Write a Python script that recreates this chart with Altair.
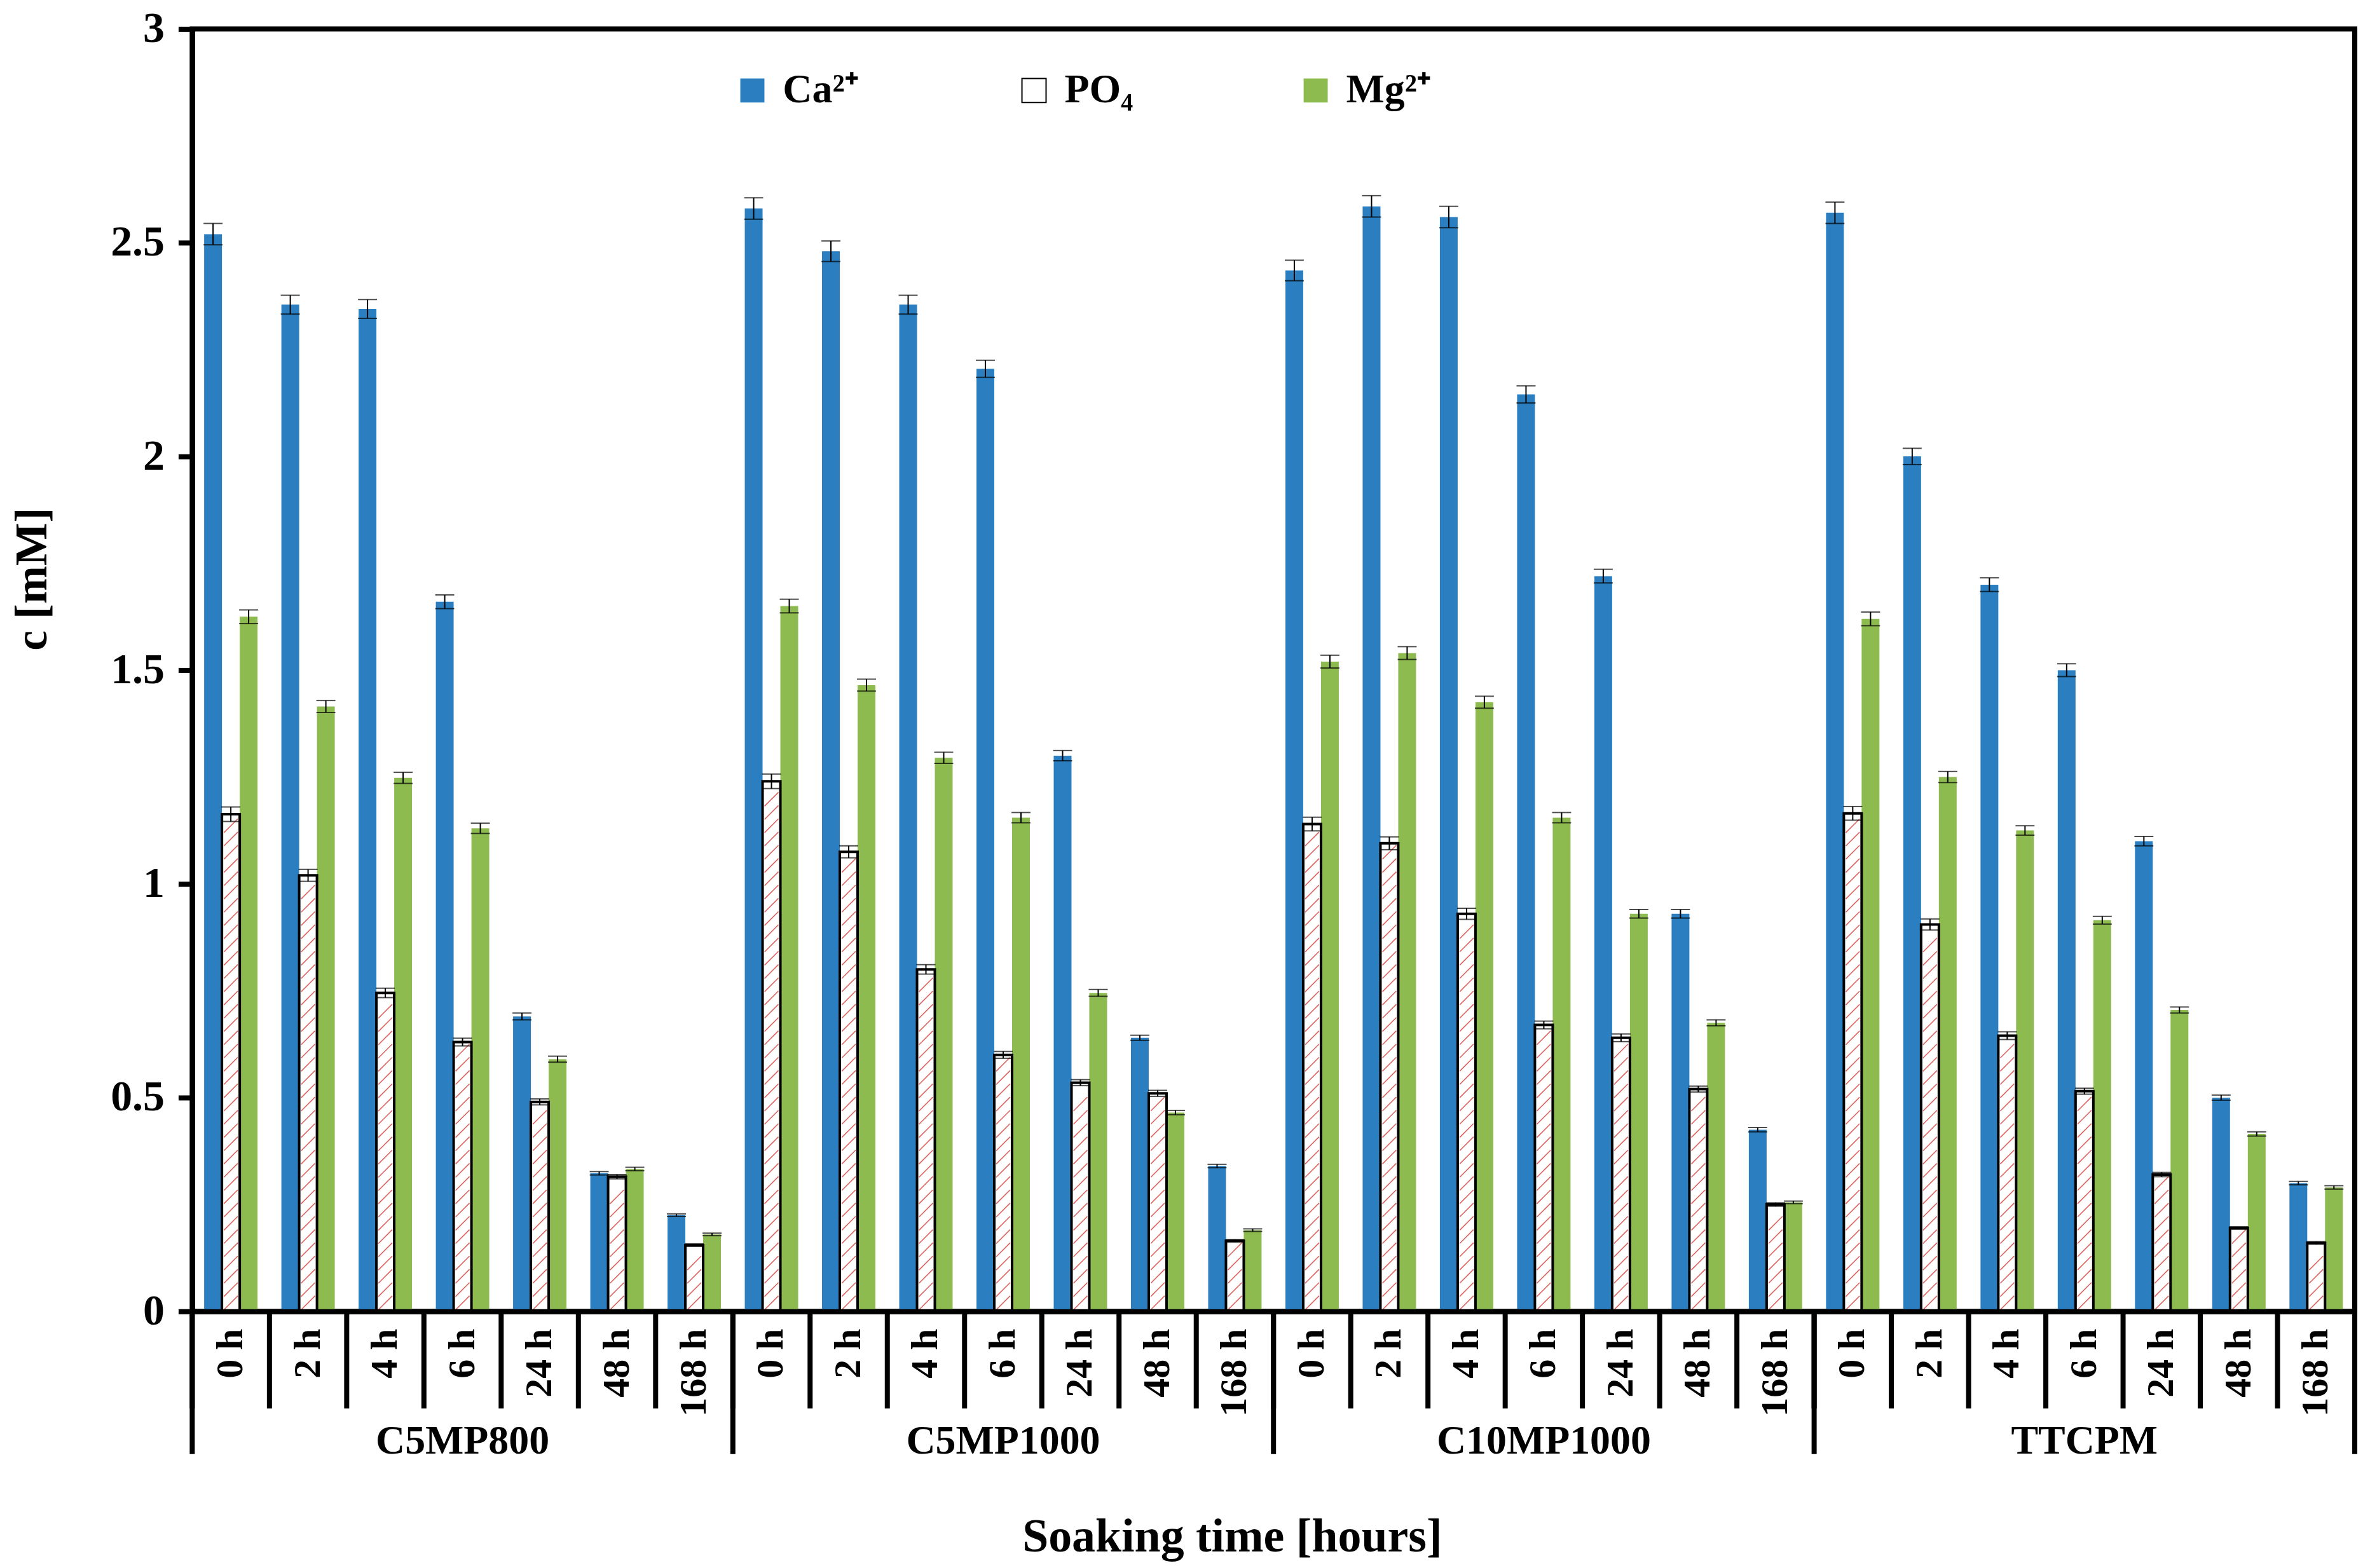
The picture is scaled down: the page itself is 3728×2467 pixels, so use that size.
import altair as alt
import pandas as pd

groups = ["C5MP800", "C5MP1000", "C10MP1000", "TTCPM"]
times = ["0 h", "2 h", "4 h", "6 h", "24 h", "48 h", "168 h"]
series = ["Ca²⁺", "PO₄", "Mg²⁺"]

# values per group (0 h ... 168 h)
ca_vals = {
    "C5MP800":   [2.52, 2.355, 2.345, 1.66, 0.69, 0.323, 0.225],
    "C5MP1000":  [2.58, 2.48, 2.355, 2.205, 1.30, 0.64, 0.34],
    "C10MP1000": [2.435, 2.585, 2.56, 2.145, 1.72, 0.93, 0.425],
    "TTCPM":     [2.57, 2.0, 1.70, 1.50, 1.10, 0.50, 0.30],
}
po4_vals = {
    "C5MP800":   [1.163, 1.02, 0.745, 0.63, 0.49, 0.315, 0.155],
    "C5MP1000":  [1.24, 1.075, 0.80, 0.60, 0.535, 0.51, 0.165],
    "C10MP1000": [1.14, 1.095, 0.93, 0.67, 0.64, 0.52, 0.25],
    "TTCPM":     [1.165, 0.905, 0.645, 0.515, 0.32, 0.195, 0.16],
}
mg_vals = {
    "C5MP800":   [1.625, 1.415, 1.248, 1.13, 0.59, 0.333, 0.18],
    "C5MP1000":  [1.65, 1.465, 1.295, 1.155, 0.745, 0.465, 0.19],
    "C10MP1000": [1.52, 1.54, 1.425, 1.155, 0.93, 0.675, 0.255],
    "TTCPM":     [1.62, 1.25, 1.125, 0.915, 0.705, 0.415, 0.29],
}
# error bar half-widths
ca_err = {
    "C5MP800":   [0.025, 0.022, 0.022, 0.016, 0.008, 0.004, 0.003],
    "C5MP1000":  [0.025, 0.024, 0.022, 0.020, 0.012, 0.006, 0.004],
    "C10MP1000": [0.024, 0.025, 0.025, 0.020, 0.016, 0.010, 0.005],
    "TTCPM":     [0.025, 0.019, 0.016, 0.015, 0.011, 0.006, 0.004],
}
po4_err = {
    "C5MP800":   [0.017, 0.014, 0.011, 0.009, 0.007, 0.005, 0.003],
    "C5MP1000":  [0.017, 0.014, 0.011, 0.008, 0.007, 0.007, 0.003],
    "C10MP1000": [0.016, 0.015, 0.013, 0.009, 0.009, 0.007, 0.004],
    "TTCPM":     [0.016, 0.013, 0.009, 0.007, 0.005, 0.003, 0.003],
}
mg_err = {
    "C5MP800":   [0.016, 0.014, 0.013, 0.012, 0.007, 0.004, 0.003],
    "C5MP1000":  [0.016, 0.014, 0.013, 0.012, 0.008, 0.005, 0.003],
    "C10MP1000": [0.015, 0.015, 0.014, 0.012, 0.010, 0.007, 0.003],
    "TTCPM":     [0.016, 0.013, 0.011, 0.009, 0.007, 0.005, 0.004],
}

BLUE = "#2B7FC0"
GREEN = "#8DBB50"
HATCH = "#D9534F"
FONT = "Liberation Serif"

keys = [f"{g}|{t}" for g in groups for t in times]

rows = []
for s, vals, errs in [(series[0], ca_vals, ca_err), (series[2], mg_vals, mg_err), (series[1], po4_vals, po4_err)]:
    for g in groups:
        for i, t in enumerate(times):
            v = vals[g][i]
            e = errs[g][i]
            rows.append({"key": f"{g}|{t}", "group": g, "time": t, "series": s,
                         "value": v, "lo": v - e, "hi": v + e})
df = pd.DataFrame(rows)

W, H = 3409, 2022

xscale = alt.Scale(domain=keys, paddingInner=0, paddingOuter=0)
xoff = alt.XOffset("series:N", scale=alt.Scale(domain=series, paddingInner=0, paddingOuter=0.67))
yscale = alt.Scale(domain=[0, 3], nice=False)

x_main = alt.X(
    "key:N", scale=xscale, title="Soaking time [hours]",
    axis=alt.Axis(
        labelExpr="split(datum.value, '|')[1]", labelAngle=-90, labelAlign="right",
        labelBaseline="middle", labelPadding=27, labelFontSize=60, labelFont=FONT,
        labelFontWeight="bold", labelOverlap=False, ticks=False, tickSize=0,
        domainWidth=8, zindex=1,
        titleFontSize=74, titleFont=FONT, titleFontWeight="bold",
        titleX=1639, titleY=378, titleAlign="center", titleBaseline="alphabetic", titleAngle=0,
    ),
)
y_main = alt.Y(
    "value:Q", scale=yscale, title="c [mM]",
    axis=alt.Axis(
        values=[0, 0.5, 1, 1.5, 2, 2.5, 3], format="~g", labelFontSize=68, labelFont=FONT,
        labelFontWeight="bold", labelPadding=22, tickSize=22, tickWidth=8, domainWidth=8,
        grid=False, zindex=1,
        titleFontSize=72, titleFont=FONT, titleFontWeight="bold",
        titleX=-230, titleY=867, titleAlign="center", titleBaseline="alphabetic", titleAngle=270,
    ),
)

legend = alt.Legend(
    title=None, orient="none", legendX=851, legendY=65, direction="horizontal",
    symbolType="square", symbolSize=1444, symbolStrokeWidth=2,
    labelFont=FONT, labelFontSize=64, labelFontWeight="bold", labelOffset=16,
    columnPadding=230, gridAlign="all", labelLimit=400,
)

base = alt.Chart(df)

bars = base.mark_bar(strokeWidth=4).encode(
    x=x_main,
    xOffset=xoff,
    y=y_main,
    fill=alt.Fill("series:N", scale=alt.Scale(domain=series, range=[BLUE, "white", GREEN]), legend=legend),
    stroke=alt.Stroke("series:N", scale=alt.Scale(domain=series, range=["rgba(0,0,0,0)", "black", "rgba(0,0,0,0)"]), legend=legend),
)

# diagonal hatching inside the PO4 bars (custom point shape = one hatch stroke)
hatch = base.transform_filter(
    alt.datum.series == series[1]
).transform_calculate(
    hy="sequence(0.02, datum.value - 0.02, 0.031)"
).transform_flatten(["hy"]).mark_point(
    shape="M -1 1 L 1 -1", filled=False, size=480, strokeWidth=1.6, color=HATCH, opacity=0.9,
).encode(
    x=alt.X("key:N", scale=xscale), xOffset=xoff, y=alt.Y("hy:Q", scale=yscale),
)

err_rule = base.mark_rule(color="black", strokeWidth=2).encode(
    x=alt.X("key:N", scale=xscale), xOffset=xoff,
    y=alt.Y("lo:Q", scale=yscale), y2="hi:Q",
)
err_lo = base.mark_tick(color="black", thickness=2, size=30).encode(
    x=alt.X("key:N", scale=xscale), xOffset=xoff, y=alt.Y("lo:Q", scale=yscale),
)
err_hi = base.mark_tick(color="black", thickness=2, size=30).encode(
    x=alt.X("key:N", scale=xscale), xOffset=xoff, y=alt.Y("hi:Q", scale=yscale),
)

sep_df = pd.DataFrame({"key": keys})
seps = alt.Chart(sep_df).mark_rule(color="black", strokeWidth=8).encode(
    x=alt.X("key:N", scale=xscale, bandPosition=0),
    y=alt.value(H), y2=alt.value(H + 153),
)

grp_df = pd.DataFrame({"key": [f"{g}|{times[0]}" for g in groups]})
grp_seps = alt.Chart(grp_df).mark_rule(color="black", strokeWidth=8).encode(
    x=alt.X("key:N", scale=xscale, bandPosition=0),
    y=alt.value(H), y2=alt.value(H + 225),
)
end_df = pd.DataFrame({"key": [keys[-1]]})
end_sep = alt.Chart(end_df).mark_rule(color="black", strokeWidth=8).encode(
    x=alt.X("key:N", scale=xscale, bandPosition=1),
    y=alt.value(0), y2=alt.value(H + 225),
)

lab_df = pd.DataFrame({"key": [f"{g}|{times[3]}" for g in groups], "group": groups})
grp_labels = alt.Chart(lab_df).mark_text(
    font=FONT, fontSize=64, fontWeight="bold", color="black", baseline="middle", align="center",
).encode(
    x=alt.X("key:N", scale=xscale, bandPosition=0.5),
    y=alt.value(H + 205),
    text="group:N",
)

chart = alt.layer(bars, hatch, err_rule, err_lo, err_hi, seps, grp_seps, end_sep, grp_labels).properties(
    width=W, height=H,
    padding={"left": 295, "top": 35, "right": 16, "bottom": 394},
    autosize=alt.AutoSizeParams(type="none"),
    background="white",
).configure_view(
    stroke="black", strokeWidth=8,
).configure_axis(
    domainColor="black", tickColor="black", labelColor="black", titleColor="black",
)

chart.save("out.html", embed_options={"renderer": "svg", "actions": False})
